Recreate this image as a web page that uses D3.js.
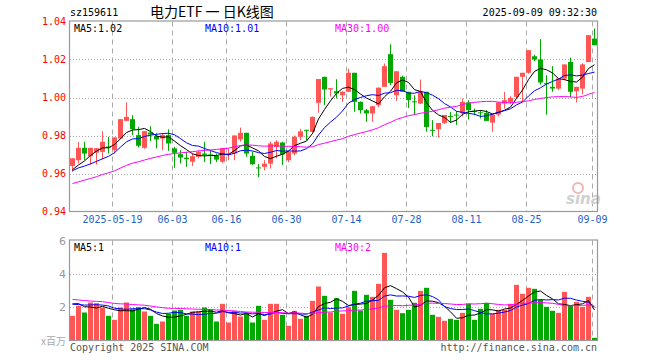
<!DOCTYPE html>
<html><head><meta charset="utf-8">
<script src="https://cdn.jsdelivr.net/npm/d3@7"></script>
<style>body{margin:0;background:#fff}svg{display:block}</style>
</head><body><svg id="c" width="660" height="360"></svg>
<script>
// ---------- data ----------
const dates = ["05-08","05-09","05-12","05-13","05-14","05-15","05-16","05-19","05-20","05-21","05-22","05-23","05-26","05-27","05-28","05-29","05-30","06-03","06-04","06-05","06-06","06-09","06-10","06-11","06-12","06-13","06-16","06-17","06-18","06-19","06-20","06-23","06-24","06-25","06-26","06-27","06-30","07-01","07-02","07-03","07-04","07-07","07-08","07-09","07-10","07-11","07-14","07-15","07-16","07-17","07-18","07-21","07-22","07-23","07-24","07-25","07-28","07-29","07-30","07-31","08-01","08-04","08-05","08-06","08-07","08-08","08-11","08-12","08-13","08-14","08-15","08-18","08-19","08-20","08-21","08-22","08-25","08-26","08-27","08-28","08-29","09-01","09-02","09-03","09-04","09-05","09-08","09-09"];
const opens  = [0.9640,0.9670,0.9735,0.9691,0.9710,0.9714,0.9742,0.9723,0.9784,0.9877,0.9886,0.9802,0.9735,0.9816,0.9797,0.9784,0.9802,0.9732,0.9702,0.9683,0.9662,0.9688,0.9705,0.9700,0.9692,0.9662,0.9697,0.9705,0.9780,0.9814,0.9693,0.9632,0.9635,0.9652,0.9740,0.9763,0.9670,0.9705,0.9793,0.9830,0.9819,0.9972,1.0109,1.0042,1.0033,1.0012,1.0030,1.0130,0.9977,0.9933,0.9916,0.9960,1.0056,1.0228,1.0012,1.0109,1.0030,0.9980,0.9968,1.0030,0.9830,0.9833,0.9866,0.9903,0.9910,0.9916,0.9974,0.9930,0.9922,0.9919,0.9868,0.9910,0.9968,0.9974,1.0003,1.0109,1.0130,1.0217,1.0200,1.0075,1.0056,1.0047,1.0100,1.0187,1.0033,1.0047,1.0187,1.0310];
const highs  = [0.9680,0.9765,0.9767,0.9735,0.9735,0.9823,0.9793,0.9790,0.9886,0.9974,0.9907,0.9846,0.9823,0.9849,0.9811,0.9811,0.9832,0.9740,0.9723,0.9714,0.9705,0.9720,0.9767,0.9720,0.9705,0.9735,0.9732,0.9800,0.9842,0.9815,0.9714,0.9650,0.9670,0.9767,0.9775,0.9767,0.9720,0.9800,0.9835,0.9830,0.9900,1.0097,1.0109,1.0049,1.0096,1.0035,1.0152,1.0130,0.9980,0.9940,0.9954,1.0052,1.0179,1.0280,1.0138,1.0115,1.0030,1.0012,1.0094,1.0030,0.9881,0.9866,0.9908,0.9924,0.9928,0.9995,0.9986,0.9942,0.9933,0.9933,0.9912,0.9977,1.0030,1.0007,1.0109,1.0130,1.0249,1.0225,1.0307,1.0117,1.0165,1.0100,1.0174,1.0210,1.0056,1.0180,1.0328,1.0363];
const lows   = [0.9609,0.9653,0.9670,0.9647,0.9647,0.9674,0.9705,0.9705,0.9780,0.9875,0.9802,0.9737,0.9730,0.9770,0.9732,0.9723,0.9719,0.9630,0.9653,0.9635,0.9640,0.9680,0.9660,0.9650,0.9660,0.9656,0.9670,0.9670,0.9768,0.9688,0.9645,0.9580,0.9617,0.9626,0.9680,0.9645,0.9660,0.9695,0.9775,0.9775,0.9815,0.9920,0.9960,1.0005,0.9995,0.9977,1.0030,0.9925,0.9916,0.9872,0.9872,0.9950,1.0056,1.0065,0.9982,1.0030,0.9945,0.9908,0.9968,0.9820,0.9796,0.9790,0.9860,0.9866,0.9856,0.9900,0.9884,0.9907,0.9889,0.9877,0.9819,0.9900,0.9942,0.9965,0.9995,0.9974,1.0125,1.0190,1.0068,0.9910,1.0030,1.0040,1.0090,1.0000,0.9974,1.0017,1.0187,1.0275];
const closes = [0.9680,0.9735,0.9705,0.9735,0.9733,0.9767,0.9738,0.9790,0.9886,0.9898,0.9833,0.9746,0.9823,0.9805,0.9779,0.9802,0.9758,0.9709,0.9684,0.9676,0.9691,0.9714,0.9698,0.9695,0.9673,0.9732,0.9705,0.9800,0.9814,0.9705,0.9649,0.9628,0.9652,0.9758,0.9767,0.9700,0.9714,0.9793,0.9822,0.9825,0.9898,1.0097,1.0042,1.0049,1.0021,1.0030,1.0130,0.9977,0.9933,0.9916,0.9954,1.0052,1.0165,1.0077,1.0138,1.0030,0.9986,0.9975,1.0030,0.9845,0.9826,0.9866,0.9908,0.9900,0.9906,0.9977,0.9933,0.9926,0.9919,0.9877,0.9910,0.9974,0.9986,0.9998,1.0109,1.0130,1.0249,1.0200,1.0079,1.0072,1.0047,1.0100,1.0174,1.0030,1.0056,1.0174,1.0328,1.0275];
const volumes = [1.48,2.08,1.68,2.28,2.24,1.98,1.48,1.24,1.98,2.28,1.88,2.00,1.74,1.48,1.00,1.14,1.60,1.80,1.84,1.48,1.74,1.74,1.98,1.88,1.14,2.20,1.08,1.78,1.44,1.64,1.08,2.08,1.24,2.20,2.20,1.54,0.88,1.78,1.30,1.48,2.38,3.24,2.68,1.68,2.54,1.60,2.00,2.98,1.80,2.74,2.62,3.40,5.26,2.44,1.84,1.64,1.84,2.26,2.98,3.16,1.54,1.42,1.18,1.30,1.24,1.66,2.20,1.24,1.90,2.26,1.60,1.84,1.84,2.20,3.34,2.80,3.16,3.10,2.44,2.02,1.78,1.66,2.92,2.08,2.32,2.02,2.62,0.16];
// sessions before the visible window (estimated from where the moving-average lines start)
const priorCloses  = [0.946,0.944,0.947,0.945,0.943,0.946,0.948,0.945,0.947,0.949,0.952,0.955,0.954,0.957,0.956,0.958,0.957,0.959,0.958,0.960,0.959,0.961,0.962,0.960,0.963,0.961,0.960,0.959,0.962];
const priorVolumes = [3.1,2.7,3.2,2.8,2.6,3.0,2.9,2.7,2.5,2.9,2.6,2.4,2.8,2.7,2.5,2.6,2.0,2.2,1.9,2.1,2.3,2.0,2.2,2.1,2.2,2.0,2.6,2.4,2.5];
const tickDates  = ["05-19","06-03","06-16","06-30","07-14","07-28","08-11","08-25","09-09"];
const tickLabels = ["2025-05-19","06-03","06-16","06-30","07-14","07-28","08-11","08-25","09-09"];
const priceTicks = [0.94,0.96,0.98,1.00,1.02,1.04];
const volTicks   = [2,4,6];
const maPeriods  = [5,10,30];
const maColors   = ["#000000","#0000ff","#ff00ff"];
const priceLegend = ["1.02","1.01","1.00"];
const volLegend   = ["1","1","2"];

// ---------- drawing ----------
const N = closes.length;
const svg = d3.select("#c");
const L = 70, R = 597, T1 = 21.5, B1 = 211.5, T2 = 240.5, B2 = 340.5;
const mono = "'DejaVu Sans Mono', monospace";
const RED = "#ff5555", GREEN = "#00a800";

const x = d3.scaleLinear().domain([0, N]).range([L, L + 6 * N]);
const y = d3.scaleLinear().domain([0.94, 1.04]).range([B1, T1]);
const yv = d3.scaleLinear().domain([0, 6]).range([B2, T2]);
const tickIdx = tickDates.map(d => dates.indexOf(d));
const up = i => closes[i] >= opens[i];

function ma(prior, vals, n) {
  const all = prior.concat(vals), off = prior.length;
  return d3.range(N).map(i => d3.mean(all.slice(off + i - n + 1, off + i + 1)));
}

svg.append("rect").attr("width", 660).attr("height", 360).attr("fill", "#fff");

// header
svg.append("text").attr("x", L).attr("y", 16).attr("font-family", mono).attr("font-size", 10).attr("fill", "#000").text("sz159611");
svg.append("text").attr("x", 150).attr("y", 17).attr("font-family", "'Noto Sans CJK SC', sans-serif").attr("font-size", 14).attr("fill", "#000").text("电力ETF 一 日K线图");
svg.append("text").attr("x", R).attr("y", 16).attr("text-anchor", "end").attr("font-family", mono).attr("font-size", 10).attr("fill", "#000").text("2025-09-09 09:32:30");

function panel(top, bottom, yScale, ticks, gridTicks, labelColor) {
  const g = svg.append("g");
  // horizontal dotted grid
  g.selectAll(".hg").data(gridTicks).join("line")
    .attr("x1", L).attr("x2", R).attr("y1", d => Math.round(yScale(d)) + 0.5).attr("y2", d => Math.round(yScale(d)) + 0.5)
    .attr("stroke", "#aaa").attr("stroke-dasharray", "1,2");
  // vertical dashed grid
  g.selectAll(".vg").data(tickIdx).join("line")
    .attr("x1", d => x(d) + 0.5).attr("x2", d => x(d) + 0.5).attr("y1", top).attr("y2", bottom)
    .attr("stroke", "#aaa").attr("stroke-dasharray", "5,4");
  // left axis labels
  const ax = d3.axisLeft(yScale).tickValues(ticks).tickSize(0).tickPadding(4);
  return g;
}

// price panel grid + axis
panel(T1, B1, y, priceTicks, [0.96, 0.98, 1.00, 1.02]);
const yAxis = svg.append("g").attr("transform", `translate(${L},0)`)
  .call(d3.axisLeft(y).tickValues(priceTicks).tickFormat(d3.format(".2f")).tickSize(0).tickPadding(4));
yAxis.select(".domain").remove();
yAxis.selectAll("text").attr("font-family", mono).attr("font-size", 10).attr("fill", "#ff0000");

const xAxis = svg.append("g").attr("transform", `translate(0,${B1})`)
  .call(d3.axisBottom(x).tickValues(tickIdx).tickFormat((d, k) => tickLabels[k]).tickSize(0).tickPadding(4));
xAxis.select(".domain").remove();
xAxis.selectAll("text").attr("font-family", mono).attr("font-size", 10).attr("fill", "#1f62c8");

// volume panel grid + axis
panel(T2, B2, yv, volTicks, [2, 4]);
const vAxis = svg.append("g").attr("transform", `translate(${L},0)`)
  .call(d3.axisLeft(yv).tickValues(volTicks).tickFormat(d3.format("d")).tickSize(0).tickPadding(4));
vAxis.select(".domain").remove();
vAxis.selectAll("text").attr("font-family", "'DejaVu Sans', sans-serif").attr("font-size", 11).attr("fill", "#999");
svg.append("text").attr("x", L - 4).attr("y", B2 + 4).attr("text-anchor", "end").attr("font-family", "'Noto Sans CJK SC', sans-serif").attr("font-size", 10).attr("fill", "#aaa").text("x百万");

// watermark
const wm = svg.append("g");
wm.append("circle").attr("cx", 578).attr("cy", 188).attr("r", 5).attr("fill", "none").attr("stroke", "#f2b5b5").attr("stroke-width", 2);
wm.append("text").attr("x", 566).attr("y", 204).attr("font-family", "'DejaVu Sans', sans-serif").attr("font-style", "italic").attr("font-weight", "bold").attr("font-size", 15).attr("fill", "#d0d0d0").text("sina");

// candles
const cg = svg.append("g");
cg.selectAll(".wick").data(d3.range(N)).join("line")
  .attr("x1", i => x(i) + 2.5).attr("x2", i => x(i) + 2.5)
  .attr("y1", i => y(highs[i])).attr("y2", i => y(lows[i]))
  .attr("stroke", i => up(i) ? RED : GREEN);
cg.selectAll(".body").data(d3.range(N)).join("rect")
  .attr("x", i => x(i)).attr("width", 5)
  .attr("y", i => y(Math.max(opens[i], closes[i])))
  .attr("height", i => Math.max(1, Math.abs(y(opens[i]) - y(closes[i]))))
  .attr("fill", i => up(i) ? RED : GREEN);

// volume bars
svg.append("g").selectAll("rect").data(d3.range(N)).join("rect")
  .attr("x", i => x(i)).attr("width", 5)
  .attr("y", i => yv(volumes[i])).attr("height", i => B2 - yv(volumes[i]))
  .attr("fill", i => up(i) ? RED : GREEN);

// moving averages
const line = (sc) => d3.line().x((d, i) => x(i) + 2.5).y(d => sc(d));
maPeriods.forEach((n, k) => {
  svg.append("path").datum(ma(priorCloses, closes, n)).attr("d", line(y))
    .attr("fill", "none").attr("stroke", maColors[k]).attr("stroke-width", 1);
  svg.append("path").datum(ma(priorVolumes, volumes, n)).attr("d", line(yv))
    .attr("fill", "none").attr("stroke", maColors[k]).attr("stroke-width", 1);
});

// frames
[[T1, B1], [T2, B2]].forEach(([t, b]) => {
  svg.append("rect").attr("x", L - 0.5).attr("y", t - 0.5).attr("width", R - L + 1).attr("height", b - t + 0.5)
    .attr("fill", "none").attr("stroke", "#999").attr("stroke-width", 1.2);
});

// legends
const legX = [74, 205, 335];
maPeriods.forEach((n, k) => {
  svg.append("text").attr("x", legX[k]).attr("y", T1 + 10).attr("font-family", mono).attr("font-size", 10)
    .attr("fill", maColors[k]).text(`MA${n}:${priceLegend[k]}`);
  svg.append("text").attr("x", legX[k]).attr("y", T2 + 10).attr("font-family", mono).attr("font-size", 10)
    .attr("fill", maColors[k]).text(`MA${n}:${volLegend[k]}`);
});

// footer
svg.append("text").attr("x", L).attr("y", 351).attr("font-family", mono).attr("font-size", 10).attr("fill", "#555").text("Copyright 2025 SINA.COM");
svg.append("text").attr("x", R).attr("y", 351).attr("text-anchor", "end").attr("font-family", mono).attr("font-size", 10).attr("fill", "#555").text("http://finance.sina.com.cn");
</script>
</body></html>
